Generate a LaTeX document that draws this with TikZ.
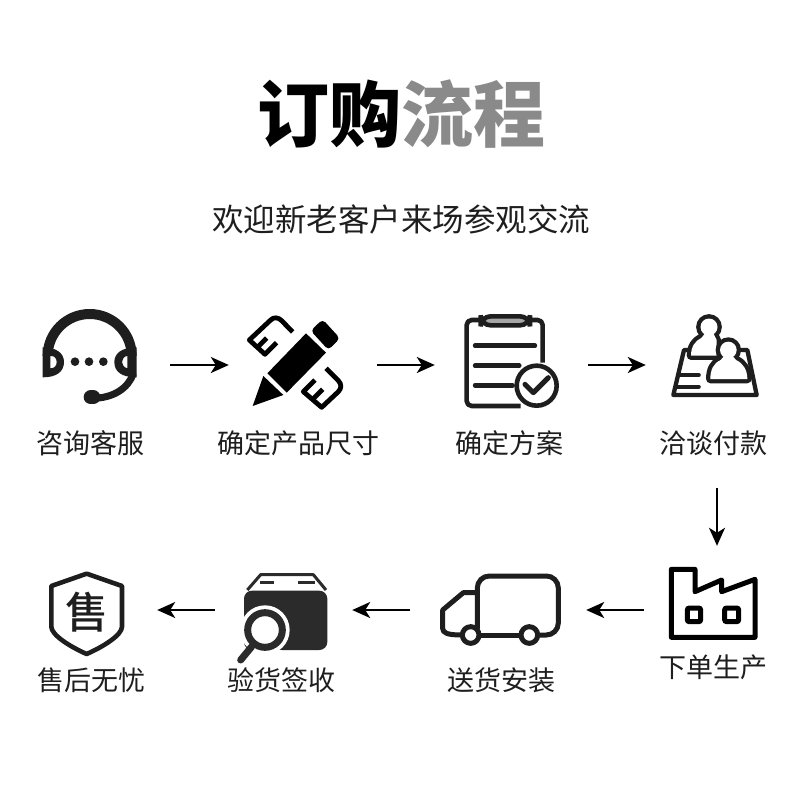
\documentclass[tikz,border=0pt]{standalone}
\usepackage{fontspec}
\usetikzlibrary{arrows.meta}
\newfontfamily\cjk{Noto Sans CJK SC}
\newfontfamily\cjkmed{Noto Sans CJK SC Medium}
\definecolor{ink}{HTML}{1E1E1E}
\definecolor{boxink}{HTML}{2B2B2B}
\definecolor{titlegray}{HTML}{8A8A8A}
\tikzset{
  lab/.style={font=\cjk\fontsize{27}{27}\selectfont,text=ink,inner sep=0pt,anchor=center},
  slot/.style={inner sep=0pt,draw=none,fill=none},
  flow/.style={draw=black,line width=2.2pt,-{Stealth[length=18pt,width=16pt,inset=5pt]}},
  ico/.style={draw=ink,line width=4.4pt,line join=round,line cap=round},
  zoomA/.style={shift={(20,290)},scale=1/3},
  zoomB/.style={shift={(400,290)},scale=1/3},
  zoomC/.style={shift={(20,550)},scale=1/3},
  zoomD/.style={shift={(400,480)},scale=1/3},
  zoomE/.style={shift={(240,310)},scale=1/3},
  zoomF/.style={shift={(660,305)},scale=1/3}
}
\begin{document}
\begin{tikzpicture}[x=1pt,y=-1pt]
\useasboundingbox (0,0) rectangle (800,800);
\fill[white] (0,0) rectangle (800,800);
% titles
\node[inner sep=0pt,font=\cjk\bfseries\fontsize{72}{72}\selectfont] (title) at (401,114) {\textcolor{black}{订购}\textcolor{titlegray}{流程}};
\node[inner sep=0pt,font=\cjk\fontsize{31.5}{32}\selectfont,text=ink] (sub) at (401,219) {欢迎新老客户来场参观交流};
% labels
\node[lab] (l1) at (90.5,443) {咨询客服};
\node[lab] (l2) at (298.5,443) {确定产品尺寸};
\node[lab] (l3) at (509,443) {确定方案};
\node[lab] (l4) at (713.5,443) {洽谈付款};
\node[lab] (l5) at (713.5,667) {下单生产};
\node[lab] (l6) at (501.5,680) {送货安装};
\node[lab] (l7) at (281,680) {验货签收};
\node[lab] (l8) at (91,680) {售后无忧};
% invisible icon slots, connectors run between them
\node[slot,minimum width=130pt,minimum height=100pt] (i1) at (105,365) {};
\node[slot,minimum width=148pt,minimum height=100pt] (i2) at (303,365) {};
\node[slot,minimum width=153pt,minimum height=100pt] (i3) at (511.5,365) {};
\node[slot,minimum width=142pt,minimum height=246pt] (i4) at (717,365) {};
\node[slot,minimum width=146pt,minimum height=128pt] (i5) at (717,610) {};
\node[slot,minimum width=176pt,minimum height=80pt] (i6) at (498,610) {};
\node[slot,minimum width=137pt,minimum height=80pt] (i7) at (283.5,610) {};
\node[slot,minimum width=137pt,minimum height=80pt] (i8) at (88.5,610) {};
\draw[flow] (i1) -- (i2);
\draw[flow] (i2) -- (i3);
\draw[flow] (i3) -- (i4);
\draw[flow] (i4) -- (i5);
\draw[flow] (i5) -- (i6);
\draw[flow] (i6) -- (i7);
\draw[flow] (i7) -- (i8);
% headset
\begin{scope}[zoomA]
\draw[ink,line width=10pt] (83,198) arc[start angle=180,end angle=360,radius=126];
\fill[ink,even odd rule] (68,172) .. controls (110,172) and (132,190) .. (132,216) .. controls (132,245) and (110,262) .. (68,262) -- cycle
  (91,197) .. controls (103,197) and (110,205) .. (110,216) .. controls (110,228) and (103,235) .. (91,235) -- cycle;
\fill[ink,even odd rule] (350,172) .. controls (305,172) and (283,190) .. (283,216) .. controls (283,245) and (305,262) .. (350,262) -- cycle
  (322,197) .. controls (312,200) and (306,207) .. (306,216) .. controls (306,225) and (312,232) .. (322,235) -- cycle;
\draw[ink,line width=7pt] (340,250) .. controls (325,295) and (280,325) .. (215,325);
\draw[ink,line width=14pt,line cap=round] (212,322) -- (220,322);
\foreach \px in {165,207,250} \fill[ink] (\px,215) circle[radius=13];
\end{scope}
% pencil with rulers
\begin{scope}[zoomE]
\fill[black] (38,288) -- (70,198) -- (130,255) -- cycle;
\fill[black] (82,190) -- (198,70) -- (258,128) -- (140,248) -- cycle;
\fill[black,rounded corners=4pt] (212,62) -- (248,28) -- (300,85) -- (265,120) -- cycle;
\draw[black,line width=4.8pt,line join=round] (158,66) -- (125,32) .. controls (115,22) and (102,20) .. (92,30) -- (28,90) -- (75,133) -- (110,98);
\draw[black,line width=4.8pt] (52,112) -- (80,84);
\draw[black,line width=4.8pt,line join=round] (258,175) -- (295,212) .. controls (305,222) and (305,235) .. (295,245) -- (245,292) -- (190,245) -- (225,210);
\draw[black,line width=4.8pt] (218,268) -- (248,238);
\end{scope}
% clipboard
\begin{scope}[zoomB]
\draw[ink,line width=4.6pt,line join=round,rounded corners=5pt] (428,218) -- (428,90) -- (200,90) -- (200,348) -- (362,348);
\filldraw[draw=ink,fill=gray!70,line width=4.6pt,rounded corners=10pt] (242,79) rectangle (390,106);
\draw[ink,line width=4.4pt,line cap=round] (225,167) -- (405,167) (225,227) -- (358,227) (225,286) -- (338,286);
\draw[ink,line width=4.6pt,fill=white] (410,287) circle[radius=60];
\draw[ink,line width=5pt,line cap=round,line join=round] (375,283) -- (400,308) -- (445,263);
\end{scope}
% people on a card
\begin{scope}[zoomF]
\draw[ico,line width=4.3pt] (85,135) -- (72,135) -- (40,270) -- (290,270) -- (262,135) -- (245,135);
\draw[ico,line width=4.3pt] (55,210) -- (116,210) (48,245) -- (116,245);
\draw[ink,line width=8.6pt,fill=ink] (147,66) circle[radius=25.5];
\draw[ink,line width=8.6pt,line join=round,fill=ink] (135,85) -- (125,98) .. controls (105,108) and (93,125) .. (93,152) -- (170,152) -- (170,105) -- (160,85) -- cycle;
\fill[white] (147,66) circle[radius=25.5];
\fill[white] (135,85) -- (125,98) .. controls (105,108) and (93,125) .. (93,152) -- (170,152) -- (170,105) -- (160,85) -- cycle;
\draw[ink,line width=8.6pt,fill=ink] (205,135) circle[radius=25];
\draw[ink,line width=8.6pt,line join=round,fill=ink] (193,152) -- (182,165) .. controls (160,175) and (151,195) .. (151,222) -- (262,222) .. controls (262,195) and (250,175) .. (228,165) -- (217,152) -- cycle;
\fill[white] (205,135) circle[radius=25];
\fill[white] (193,152) -- (182,165) .. controls (160,175) and (151,195) .. (151,222) -- (262,222) .. controls (262,195) and (250,175) .. (228,165) -- (217,152) -- cycle;
\end{scope}
% shield and inspected box
\begin{scope}[zoomC]
\draw[ico,line width=4.6pt] (200,71) -- (306,108) -- (306,230) .. controls (306,255) and (250,290) .. (200,312) .. controls (150,290) and (94,255) .. (94,230) -- (94,108) -- cycle;
\node[inner sep=0pt,font=\cjkmed\fontsize{43}{43}\selectfont,text=ink] (shieldmark) at (200,186) {售};
\fill[boxink,rounded corners=8pt] (672,122) rectangle (922,300);
\draw[boxink,line width=3pt,line join=round] (682,120) -- (722,74) -- (880,74) -- (918,120);
\draw[boxink,line width=3pt] (720,97) -- (762,97) (835,97) -- (885,97);
\fill[white] (735,240) circle[radius=74];
\fill[white] (640,300) rectangle (785,345);
\draw[boxink,line width=7pt,line cap=round] (695,290) -- (662,330);
\draw[boxink,line width=7pt,fill=white] (735,240) circle[radius=52];
\end{scope}
% truck and factory
\begin{scope}[zoomD]
\draw[ico,line width=5pt,rounded corners=12pt] (232,445) -- (232,288) -- (475,288) -- (475,465) -- (410,465);
\draw[ico,line width=5pt] (240,465) -- (365,465);
\draw[ico,line width=5pt] (232,338) -- (190,338) -- (128,390) -- (128,445) .. controls (128,458) and (140,465) .. (185,465);
\draw[ico,line width=5pt,fill=white] (212,465) circle[radius=25];
\draw[ico,line width=5pt,fill=white] (388,465) circle[radius=25];
\draw[draw=black,line width=5pt,line join=round] (814,268) -- (885,268) -- (885,335) -- (965,300) -- (965,335) -- (1065,298) -- (1065,472) -- (814,472) -- cycle;
\draw[draw=black,line width=5pt,rounded corners=2pt] (862,384) rectangle (902,425);
\draw[draw=black,line width=5pt,rounded corners=2pt] (974,384) rectangle (1016,425);
\end{scope}
\end{tikzpicture}
\end{document}
